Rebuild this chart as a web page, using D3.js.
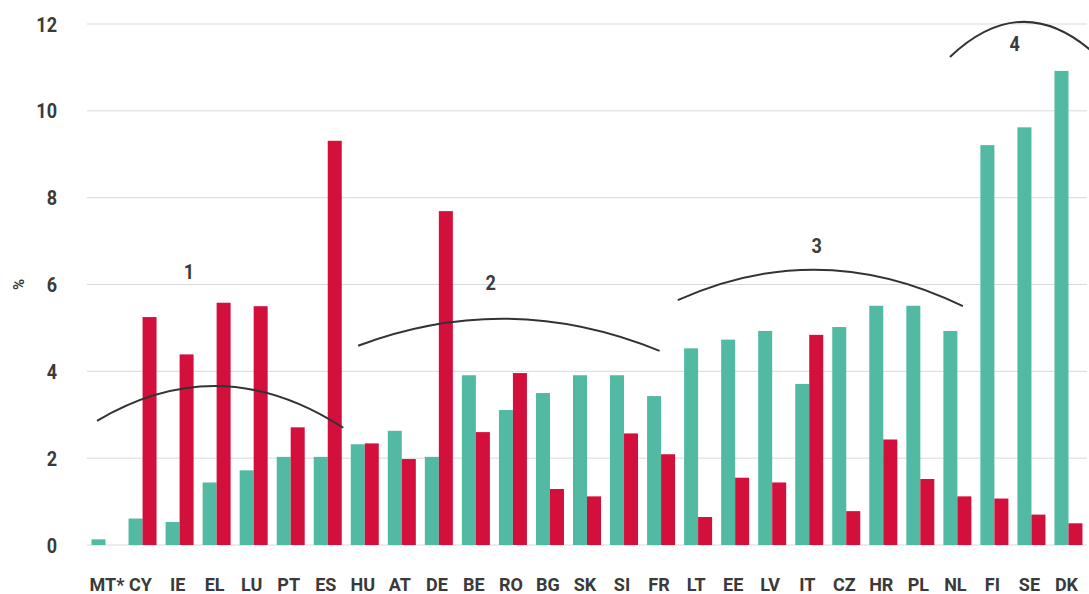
<!DOCTYPE html>
<html>
<head>
<meta charset="utf-8">
<script src="https://cdn.jsdelivr.net/npm/d3@7"></script>
<style>
  body { margin: 0; background: #fff; }
  svg text { font-family: Roboto, "Noto Sans", sans-serif; font-weight: 700; fill: #3a3a3a; }
</style>
</head>
<body>
<svg id="chart" width="1089" height="594"></svg>
<script>
const countries = ["MT*","CY","IE","EL","LU","PT","ES","HU","AT","DE","BE","RO","BG","SK","SI","FR","LT","EE","LV","IT","CZ","HR","PL","NL","FI","SE","DK"];
const tealValues = [0.13,0.61,0.53,1.44,1.72,2.03,2.03,2.32,2.63,2.03,3.91,3.11,3.50,3.91,3.91,3.43,4.53,4.73,4.93,3.71,5.02,5.51,5.51,4.93,9.21,9.62,10.92];
const redValues = [null,5.25,4.39,5.58,5.50,2.71,9.31,2.34,1.98,7.69,2.60,3.96,1.29,1.12,2.57,2.09,0.645,1.55,1.44,4.84,0.78,2.43,1.52,1.12,1.07,0.70,0.50];
const yTicks = [0,2,4,6,8,10,12];

// cluster arcs: ends in band units (0 = left edge of first band), heights in %
const clusters = [
  {label: "1", b0: 0.27, b1: 6.92, y0: 2.86, y1: 2.70, peak: 3.66, lb: 2.75, lv: 6.3},
  {label: "2", b0: 7.32, b1: 15.46, y0: 4.59, y1: 4.47, peak: 5.21, lb: 10.9, lv: 6.05},
  {label: "3", b0: 15.95, b1: 23.65, y0: 5.64, y1: 5.50, peak: 6.34, lb: 19.7, lv: 6.9},
  {label: "4", b0: 23.3, b1: 27.3, y0: 11.24, y1: 11.24, peak: 12.05, lb: 25.05, lv: 11.55}
];

const width = 1089, height = 594;
const margin = {top: 24, right: 2, bottom: 49, left: 87};

const svg = d3.select("#chart");

const x = d3.scaleBand()
  .domain(countries)
  .range([margin.left, width - margin.right])
  .padding(0);

const y = d3.scaleLinear()
  .domain([0, 12])
  .range([height - margin.bottom, margin.top]);

const barW = 14;
const bandPos = b => margin.left + b * x.step();

// gridlines
svg.append("g")
  .selectAll("line")
  .data(yTicks)
  .join("line")
  .attr("x1", margin.left)
  .attr("x2", width - margin.right)
  .attr("y1", d => y(d))
  .attr("y2", d => y(d))
  .attr("stroke", "#d9d9d9")
  .attr("stroke-width", 1);

// y tick labels (narrowed to mimic condensed face)
svg.append("g")
  .selectAll("text")
  .data(yTicks)
  .join("text")
  .attr("transform", d => `translate(57,${y(d)}) scale(0.86,1)`)
  .attr("dy", "0.36em")
  .attr("text-anchor", "end")
  .attr("font-size", 21)
  .text(d => d);

svg.append("text")
  .attr("transform", `translate(24,${y(6)}) rotate(-90)`)
  .attr("text-anchor", "middle")
  .attr("font-size", 15)
  .text("%");

// bars
const center = d => x(d) + x.bandwidth() / 2;

svg.append("g")
  .selectAll("rect")
  .data(countries.map((c, i) => ({c, v: tealValues[i]})))
  .join("rect")
  .attr("x", d => center(d.c) - barW)
  .attr("width", barW)
  .attr("y", d => y(d.v))
  .attr("height", d => y(0) - y(d.v))
  .attr("fill", "#52baa3");

svg.append("g")
  .selectAll("rect")
  .data(countries.map((c, i) => ({c, v: redValues[i]})).filter(d => d.v != null))
  .join("rect")
  .attr("x", d => center(d.c))
  .attr("width", barW)
  .attr("y", d => y(d.v))
  .attr("height", d => y(0) - y(d.v))
  .attr("fill", "#d30f3c");

// x labels
svg.append("g")
  .selectAll("text")
  .data(countries)
  .join("text")
  .attr("x", d => center(d) + (d === "MT*" ? 1.5 : -2))
  .attr("y", 591)
  .attr("text-anchor", "middle")
  .attr("font-size", 18)
  .text(d => d);

// cluster arcs
const arcG = svg.append("g");
clusters.forEach(cl => {
  const xa = bandPos(cl.b0), xb = bandPos(cl.b1);
  const ya = y(cl.y0), yb = y(cl.y1), yp = y(cl.peak);
  const p = d3.path();
  p.moveTo(xa, ya);
  p.quadraticCurveTo((xa + xb) / 2, 2 * yp - (ya + yb) / 2, xb, yb);
  arcG.append("path")
    .attr("d", p.toString())
    .attr("fill", "none")
    .attr("stroke", "#333")
    .attr("stroke-width", 2);
});

// cluster labels
svg.append("g")
  .selectAll("text")
  .data(clusters)
  .join("text")
  .attr("transform", d => `translate(${bandPos(d.lb)},${y(d.lv)}) scale(0.86,1)`)
  .attr("dy", "0.36em")
  .attr("text-anchor", "middle")
  .attr("font-size", 21)
  .attr("fill", "#333")
  .text(d => d.label);
</script>
</body>
</html>
